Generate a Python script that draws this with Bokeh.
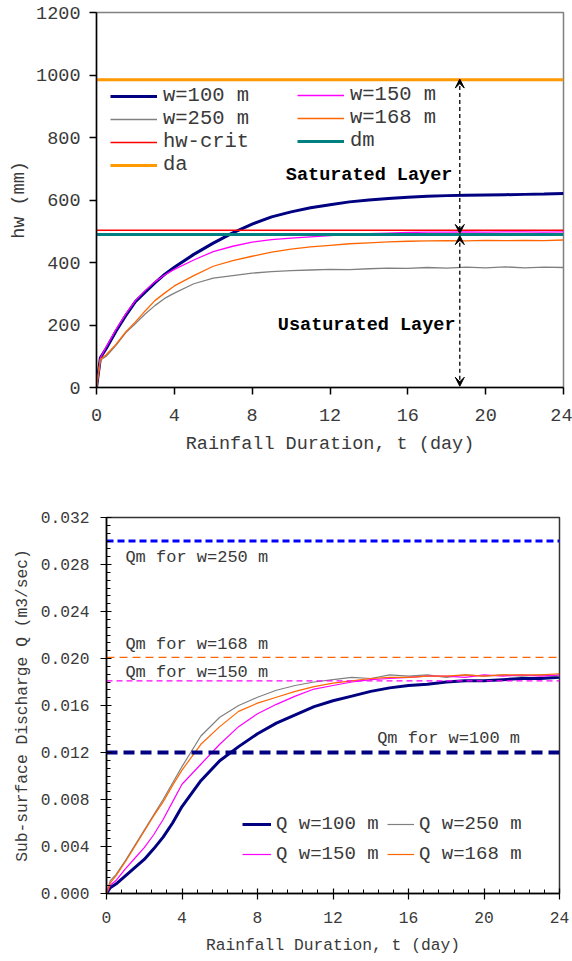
from bokeh.plotting import figure
from bokeh.models import (Range1d, FixedTicker, Legend, LegendItem, Arrow,
                          VeeHead, NumeralTickFormatter)
from bokeh.core.properties import value
from bokeh.embed import file_html
from bokeh.resources import INLINE

# ---------------- data ----------------
t = [0, 0.2, 0.5, 1, 1.5, 2, 2.5, 3, 3.5, 4, 5, 6, 7, 8, 9, 10, 11, 12, 13, 14,
     15, 16, 17, 18, 19, 20, 21, 22, 23, 24]

hw_w100 = [0, 95, 125, 180, 230, 275, 305, 335, 362, 385, 426, 462, 495, 523, 546,
           562, 575, 585, 594, 600, 605, 609, 612, 614, 615, 616, 617, 618, 619, 621]
hw_w150 = [0, 95, 130, 185, 235, 278, 310, 338, 360, 378, 408, 435, 452, 465, 473,
           478, 482, 486, 490, 492, 494, 496, 497, 497, 498, 497, 498, 498, 497, 498]
hw_w250 = [0, 88, 100, 135, 175, 205, 235, 262, 285, 302, 332, 350, 358, 366, 371,
           374, 376, 378, 377, 380, 382, 381, 384, 382, 385, 383, 386, 383, 385, 384]
hw_w168 = [0, 90, 105, 138, 178, 210, 245, 278, 302, 325, 358, 388, 406, 420, 433,
           443, 450, 455, 460, 463, 466, 468, 469, 470, 469, 471, 470, 471, 470, 472]
hw_crit = 503
dm = 490
da = 985

q_w100 = [0, 0.0005, 0.0008, 0.0015, 0.0022, 0.0029, 0.0038, 0.0048, 0.0060, 0.0074,
          0.0096, 0.0113, 0.0125, 0.0136, 0.0145, 0.0152, 0.0159, 0.0164, 0.0168,
          0.0172, 0.0175, 0.0177, 0.0178, 0.0180, 0.0181, 0.0181, 0.0182, 0.0183,
          0.0183, 0.0184]
q_w250 = [0, 0.0011, 0.0016, 0.0028, 0.0041, 0.0054, 0.0067, 0.0080, 0.0094, 0.0108,
          0.0134, 0.0150, 0.0160, 0.0167, 0.0173, 0.0177, 0.0180, 0.0182, 0.0184,
          0.0183, 0.0186, 0.0185, 0.0186, 0.0184, 0.0186, 0.0185, 0.0186, 0.0185,
          0.0186, 0.0185]
q_w150 = [0, 0.0007, 0.0011, 0.0021, 0.0030, 0.0039, 0.0050, 0.0063, 0.0078, 0.0093,
          0.0110, 0.0127, 0.0142, 0.0153, 0.0161, 0.0168, 0.0174, 0.0177, 0.0180,
          0.0182, 0.0183, 0.0184, 0.0185, 0.0185, 0.0184, 0.0186, 0.0185, 0.0186,
          0.0185, 0.0186]
q_w168 = [0, 0.0009, 0.0015, 0.0027, 0.0040, 0.0053, 0.0066, 0.0078, 0.0092, 0.0105,
          0.0127, 0.0142, 0.0155, 0.0162, 0.0167, 0.0172, 0.0176, 0.0179, 0.0181,
          0.0183, 0.0184, 0.0184, 0.0185, 0.0185, 0.0186, 0.0185, 0.0186, 0.0186,
          0.0186, 0.0187]
qm_w250 = 0.0300
qm_w168 = 0.0201
qm_w150 = 0.0181
qm_w100 = 0.0120

x_ticks = [0, 4, 8, 12, 16, 20, 24]
hw_ticks = [0, 200, 400, 600, 800, 1000, 1200]
q_ticks = [0.000, 0.004, 0.008, 0.012, 0.016, 0.020, 0.024, 0.028, 0.032]

FONT = "Liberation Mono"
TXT = "#3a3a3a"
ends = [t[0], t[-1]]

# ---------------- top chart ----------------
p1 = figure(width=572, height=470, x_range=Range1d(0, 24), y_range=Range1d(0, 1200),
            output_backend="svg", toolbar_location=None,
            min_border_left=96, min_border_right=9, min_border_top=12, min_border_bottom=83)
p1.grid.visible = False
p1.outline_line_color = "#808080"
p1.outline_line_width = 1.5
p1.background_fill_color = "white"

r100 = p1.line(t, hw_w100, line_color="#000080", line_width=3)
r150 = p1.line(t, hw_w150, line_color="#FF00FF", line_width=1.3)
r250 = p1.line(t, hw_w250, line_color="#808080", line_width=1.3)
r168 = p1.line(t, hw_w168, line_color="#FF6600", line_width=1.3)
rcrit = p1.line(ends, [hw_crit, hw_crit], line_color="#FF0000", line_width=1.5)
rdm = p1.line(ends, [dm, dm], line_color="#008080", line_width=3)
rda = p1.line(ends, [da, da], line_color="#FF9900", line_width=3)

for ax in (p1.xaxis[0], p1.yaxis[0]):
    ax.axis_line_color = "black"
    ax.axis_line_width = 1.5
    ax.major_tick_line_color = "black"
    ax.major_tick_line_width = 1.5
    ax.major_tick_out = 7
    ax.major_tick_in = 0
    ax.minor_tick_line_color = None
    ax.major_label_text_font = FONT
    ax.major_label_text_font_size = "18.5px"
    ax.major_label_text_color = TXT
    ax.axis_label_text_font = FONT
    ax.axis_label_text_font_size = "18.5px"
    ax.axis_label_text_font_style = "normal"
    ax.axis_label_text_color = TXT

p1.xaxis.ticker = FixedTicker(ticks=x_ticks)
p1.yaxis.ticker = FixedTicker(ticks=hw_ticks)
p1.xaxis.axis_label = "Rainfall Duration, t (day)"
p1.yaxis.axis_label = "hw (mm)"
p1.xaxis.major_label_standoff = 14
p1.xaxis.axis_label_standoff = 10
p1.yaxis.major_label_standoff = 9
p1.yaxis.axis_label_standoff = 3

leg_kw = dict(orientation="vertical", padding=0, margin=0, spacing=0,
              label_text_font=FONT, label_text_font_size="20.5px",
              label_text_color=TXT, border_line_color=None,
              background_fill_alpha=0, label_height=20, glyph_height=20)
leg1 = Legend(items=[LegendItem(label="w=100 m", renderers=[r100]),
                     LegendItem(label="w=250 m", renderers=[r250]),
                     LegendItem(label="hw-crit", renderers=[rcrit]),
                     LegendItem(label="da", renderers=[rda])],
              location=(14, 211), glyph_width=47, label_standoff=6, **leg_kw)
leg2 = Legend(items=[LegendItem(label="w=150 m", renderers=[r150]),
                     LegendItem(label="w=168 m", renderers=[r168]),
                     LegendItem(label="dm", renderers=[rdm])],
              location=(201, 235), glyph_width=47, label_standoff=6, **leg_kw)
p1.add_layout(leg1)
p1.add_layout(leg2)

p1.text(x=[9.73], y=[680], text=["Saturated Layer"], text_font=value(FONT),
        text_font_style="bold", text_font_size="18.5px", text_color="black",
        text_baseline="middle", text_align="left")
p1.text(x=[9.32], y=[197], text=["Usaturated Layer"], text_font=value(FONT),
        text_font_style="bold", text_font_size="18.5px", text_color="black",
        text_baseline="middle", text_align="left")

arrow_x = 18.67
for ys, ye in ((987, 493), (486, 4)):
    p1.add_layout(Arrow(start=VeeHead(size=9, fill_color="black", line_color="black"),
                        end=VeeHead(size=9, fill_color="black", line_color="black"),
                        x_start=arrow_x, y_start=ys, x_end=arrow_x, y_end=ye,
                        line_dash="4 3", line_width=1.3, line_color="black"))

# ---------------- bottom chart ----------------
p2 = figure(width=572, height=490, x_range=Range1d(0, 24), y_range=Range1d(0, 0.032),
            output_backend="svg", toolbar_location=None,
            min_border_left=106, min_border_right=13, min_border_top=47, min_border_bottom=67)
p2.grid.visible = False
p2.outline_line_color = "#333333"
p2.outline_line_width = 1.5

q100 = p2.line(t, q_w100, line_color="#000080", line_width=3)
q250 = p2.line(t, q_w250, line_color="#808080", line_width=1.2)
q150 = p2.line(t, q_w150, line_color="#FF00FF", line_width=1.2)
q168 = p2.line(t, q_w168, line_color="#FF6600", line_width=1.2)
p2.line(ends, [qm_w250, qm_w250], line_color="#0000FF", line_width=3, line_dash="7 4")
p2.line(ends, [qm_w168, qm_w168], line_color="#FF6600", line_width=1.4, line_dash="8 5")
p2.line(ends, [qm_w150, qm_w150], line_color="#FF00FF", line_width=1.4, line_dash="6 4")
p2.line(ends, [qm_w100, qm_w100], line_color="#000080", line_width=4, line_dash="11 6")

for ax in (p2.xaxis[0], p2.yaxis[0]):
    ax.axis_line_color = "black"
    ax.axis_line_width = 1.5
    ax.major_tick_line_color = "black"
    ax.major_tick_line_width = 1.2
    ax.minor_tick_line_color = "black"
    ax.minor_tick_line_width = 1
    ax.major_tick_out = 6
    ax.major_tick_in = 5
    ax.minor_tick_out = 0
    ax.minor_tick_in = 4
    ax.major_label_text_font = FONT
    ax.major_label_text_font_size = "16.3px"
    ax.major_label_text_color = TXT
    ax.axis_label_text_font = FONT
    ax.axis_label_text_font_size = "16.3px"
    ax.axis_label_text_font_style = "normal"
    ax.axis_label_text_color = TXT

x_minor = [k * 0.8 for k in range(31)]
q_minor = [k * 0.004 / 6 for k in range(49)]
p2.xaxis.ticker = FixedTicker(ticks=x_ticks, minor_ticks=x_minor)
p2.yaxis.ticker = FixedTicker(ticks=q_ticks, minor_ticks=q_minor)
p2.yaxis.formatter = NumeralTickFormatter(format="0.000")
p2.xaxis.axis_label = "Rainfall Duration, t (day)"
p2.yaxis.axis_label = "Sub-surface Discharge Q (m3/sec)"
p2.xaxis.major_label_standoff = 12
p2.xaxis.axis_label_standoff = 10
p2.yaxis.major_label_standoff = 11
p2.yaxis.axis_label_standoff = 6

leg_kw2 = dict(orientation="vertical", padding=0, margin=0, spacing=8,
               label_text_font=FONT, label_text_font_size="19px",
               label_text_color=TXT, border_line_color=None,
               background_fill_alpha=0, label_height=20, glyph_height=20,
               label_standoff=5)
leg3 = Legend(items=[LegendItem(label="Q w=100 m", renderers=[q100]),
                     LegendItem(label="Q w=150 m", renderers=[q150])],
              location=(136, 28), glyph_width=29, **leg_kw2)
leg4 = Legend(items=[LegendItem(label="Q w=250 m", renderers=[q250]),
                     LegendItem(label="Q w=168 m", renderers=[q168])],
              location=(281, 28), glyph_width=27, **leg_kw2)
p2.add_layout(leg3)
p2.add_layout(leg4)

qm_labels = ["Qm for w=250 m", "Qm for w=168 m", "Qm for w=150 m", "Qm for w=100 m"]
p2.text(x=[1.0, 1.0, 1.0, 14.34], y=[0.0286, 0.0212, 0.0188, 0.0132], text=qm_labels,
        text_font=value(FONT), text_font_size="17px", text_color=TXT,
        text_baseline="middle", text_align="left")

open("out.html", "w").write(file_html([p1, p2], INLINE))
